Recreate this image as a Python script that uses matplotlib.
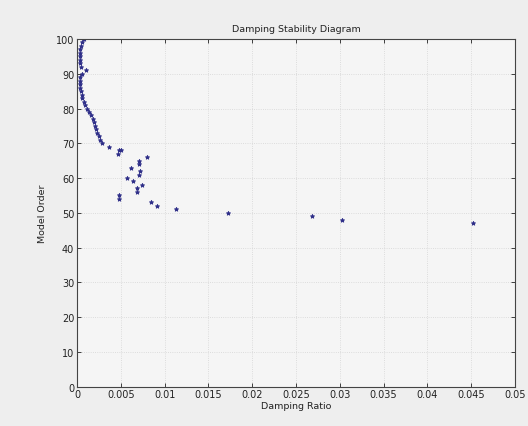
import matplotlib
matplotlib.use("Agg")
import matplotlib.pyplot as plt
from matplotlib.ticker import FuncFormatter

# Stable poles: damping ratio per model order
model_order = [100, 99, 98, 97, 96, 95, 94, 93, 92, 91, 90, 89, 88, 87, 86,
               85, 84, 83, 82, 81, 80, 79, 78, 77, 76, 75, 74, 73, 72, 71, 70,
               69, 68, 68, 67, 66, 65, 64, 63, 62, 61, 60, 59, 58, 57, 56,
               55, 54, 53, 52, 51, 50, 49, 48, 47]
damping_ratio = [0.0008, 0.0006, 0.0005, 0.0004, 0.0004, 0.0003, 0.0003, 0.0004,
                 0.0005, 0.0010, 0.0006, 0.0004, 0.0003, 0.0003, 0.0004,
                 0.0005, 0.0006, 0.0006, 0.0008, 0.0009, 0.0011, 0.0014, 0.0016,
                 0.0018, 0.0019, 0.0021, 0.0022, 0.0023, 0.0025, 0.0026, 0.0028,
                 0.0037, 0.0048, 0.0050, 0.0047, 0.0080, 0.0071, 0.0071, 0.0062,
                 0.0072, 0.0071, 0.0057, 0.0064, 0.0074, 0.0069, 0.0069,
                 0.0048, 0.0048, 0.0085, 0.0091, 0.0113, 0.0172, 0.0268, 0.0303,
                 0.0452]

x_ticks = [0, 0.005, 0.01, 0.015, 0.02, 0.025, 0.03, 0.035, 0.04, 0.045, 0.05]
y_ticks = list(range(0, 101, 10))

fig = plt.figure(figsize=(5.28, 4.27), dpi=100, facecolor="#eeeeee")
ax = fig.add_axes([0.1458, 0.0925, 0.8296, 0.8138], facecolor="#f5f5f5")

ax.plot(damping_ratio, model_order, linestyle="none", marker="*",
        markersize=3.2, color="#2e2e88", markeredgewidth=0.6)

ax.set_xlim(0, 0.05)
ax.set_ylim(0, 100)
ax.set_xticks(x_ticks)
ax.set_yticks(y_ticks)
ax.xaxis.set_major_formatter(FuncFormatter(lambda v, p: "%g" % round(v, 4)))
ax.tick_params(direction="in", top=True, right=True, labelsize=7,
               length=3, width=0.6, colors="#222222", pad=2)
ax.grid(True, linestyle=":", color="#d4d4d4", linewidth=0.6)
for s in ax.spines.values():
    s.set_color("#444444")
    s.set_linewidth(0.8)

ax.set_title("Damping Stability Diagram", fontsize=6.8, color="#222222", pad=6)
ax.set_xlabel("Damping Ratio", fontsize=6.8, color="#222222", labelpad=1)
ax.set_ylabel("Model Order", fontsize=6.8, color="#222222", labelpad=6)

fig.savefig("out.png", dpi=100, facecolor=fig.get_facecolor())
